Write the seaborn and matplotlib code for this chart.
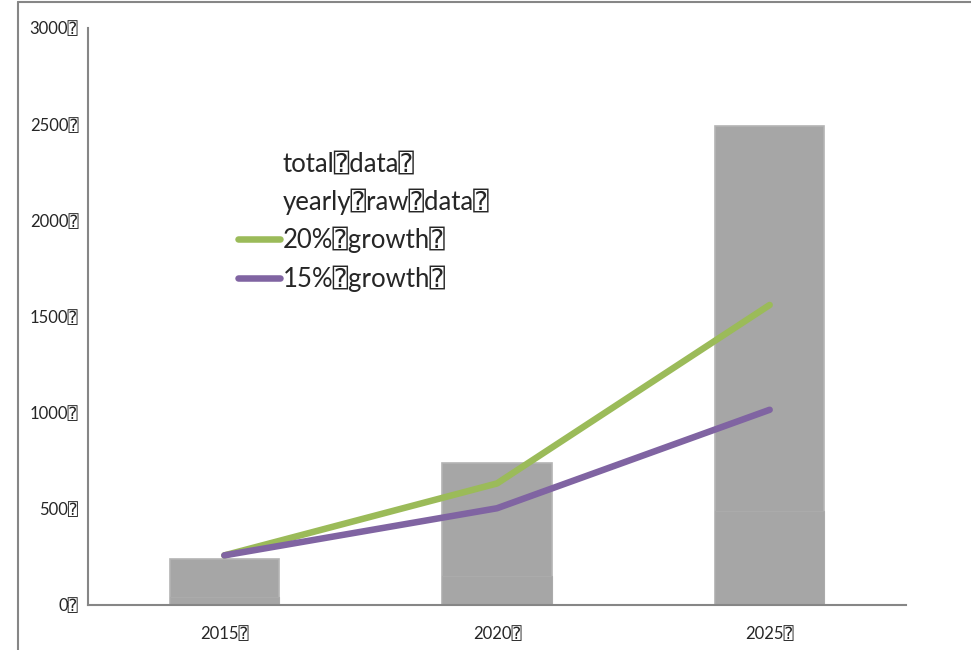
import pandas as pd
import numpy as np
import matplotlib.pyplot as plt
import seaborn as sns
from matplotlib.patches import Patch
from matplotlib.lines import Line2D

Q = "\u2370"

years = ["2015" + Q, "2020" + Q, "2025" + Q]
total_data = [240, 740, 2490]
yearly_raw = [40, 150, 490]
growth_20 = [258, 632, 1560]
growth_15 = [258, 503, 1015]
yticks = [0, 500, 1000, 1500, 2000, 2500, 3000]

df = pd.DataFrame({"year": years, "total": total_data, "raw": yearly_raw,
                   "g20": growth_20, "g15": growth_15})

sns.set_style("white")
plt.rcParams['font.family'] = ['Lato', 'DejaVu Sans', 'DejaVu Sans Mono']

fig = plt.figure(figsize=(9.71, 6.5), dpi=100)
ax = fig.add_axes([88/971, 1-605/650, (906-88)/971, (605-28)/650])

gray = "#a6a6a6"
sns.barplot(data=df, x="year", y="total", color=gray, width=0.4, ax=ax,
            saturation=1, edgecolor="#b4b4b4", linewidth=1.2)
sns.barplot(data=df, x="year", y="raw", color=gray, width=0.4, ax=ax,
            saturation=1, edgecolor="#ababab", linewidth=0.8)

sns.lineplot(data=df, x="year", y="g20", color="#9bbb59", lw=4.7, ax=ax,
             solid_capstyle="round", sort=False)
sns.lineplot(data=df, x="year", y="g15", color="#8064a2", lw=4.7, ax=ax,
             solid_capstyle="round", sort=False)

ax.set_xlim(-0.5, 2.5)
ax.set_ylim(0, 3000)
ax.set_xlabel("")
ax.set_ylabel("")
ax.set_yticks(yticks)
ax.set_yticklabels([f"{v}{Q}" for v in yticks], fontsize=12)
ax.set_xticks([0, 1, 2])
ax.set_xticklabels(years, fontsize=12)
ax.tick_params(axis="x", length=0, pad=15)
ax.set_xticks([-0.5, 0.5, 1.5, 2.5], minor=True)
ax.tick_params(axis="x", which="minor", length=5, width=1.2, color="#868686", direction="out")
ax.tick_params(axis="y", length=5, width=1.2, color="#868686", direction="out", pad=2)

for s in ["top", "right"]:
    ax.spines[s].set_visible(False)
for s in ["left", "bottom"]:
    ax.spines[s].set_color("#868686")
    ax.spines[s].set_linewidth(1.5)

handles = [Patch(facecolor="none", edgecolor="none"),
           Patch(facecolor="none", edgecolor="none"),
           Line2D([], [], color="#9bbb59", lw=4.7, solid_capstyle="round"),
           Line2D([], [], color="#8064a2", lw=4.7, solid_capstyle="round")]
labels = ["total" + Q + "data" + Q, "yearly" + Q + "raw" + Q + "data" + Q,
          "20%" + Q + "growth" + Q, "15%" + Q + "growth" + Q]
ax.legend(handles, labels, loc="upper left", bbox_to_anchor=(225/971, 1-139/650),
          bbox_transform=fig.transFigure, frameon=False, fontsize=18.5,
          handlelength=1.65, handletextpad=0.1, labelspacing=0.46, borderpad=0)

# outer chart frame
fig.add_artist(Line2D([17.5/971, 17.5/971], [0, 1-2/650], color="#868686", lw=1.5))
fig.add_artist(Line2D([17.5/971, 1], [1-2/650, 1-2/650], color="#868686", lw=1.5))

plt.savefig("out.png", dpi=100)
